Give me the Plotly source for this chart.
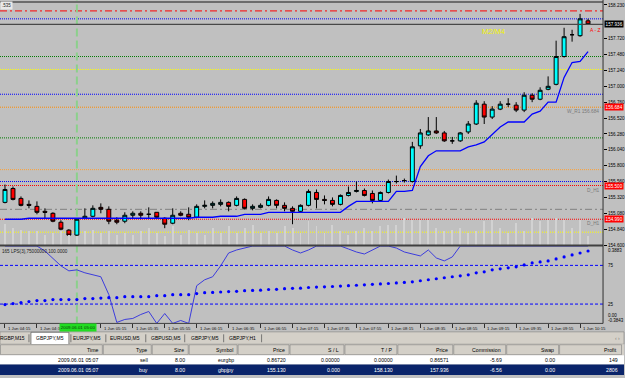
import plotly.graph_objects as go

# ---------------- data ----------------
bars = list(range(74))  # M5 bars, 1 Jun 04:15 .. 10:20

opens = [155.245, 155.455, 155.305, 155.215, 155.185, 155.11, 155.08, 154.945, 154.825, 154.75,
         155.005, 155.035, 155.17, 155.14, 154.975, 154.96, 155.05, 155.08, 155.065, 155.095,
         155.005, 154.93, 155.08, 155.065, 155.02, 155.185, 155.2, 155.215, 155.245, 155.2,
         155.29, 155.155, 155.17, 155.2, 155.275, 155.2, 155.155, 155.11, 155.2, 155.395,
         155.29, 155.275, 155.215, 155.35, 155.41, 155.425, 155.38, 155.275, 155.395, 155.56,
         155.575, 155.56, 156.1, 156.265, 156.325, 156.295, 156.175, 156.175, 156.31, 156.43,
         156.73, 156.535, 156.655, 156.73, 156.715, 156.64, 156.865, 156.805, 156.955, 157.03,
         157.45, 157.78, 157.765, 157.99]
highs = [155.515, 155.485, 155.335, 155.275, 155.26, 155.155, 155.095, 154.975, 154.84, 155.005,
         155.155, 155.2, 155.23, 155.185, 155.02, 155.095, 155.11, 155.11, 155.17, 155.095,
         155.02, 155.155, 155.11, 155.17, 155.215, 155.275, 155.26, 155.29, 155.26, 155.335,
         155.305, 155.215, 155.23, 155.335, 155.29, 155.245, 155.185, 155.215, 155.44, 155.44,
         155.35, 155.32, 155.365, 155.485, 155.56, 155.455, 155.425, 155.41, 155.59, 155.65,
         155.605, 156.16, 156.355, 156.535, 156.535, 156.325, 156.235, 156.31, 156.475, 156.79,
         156.775, 156.7, 156.775, 156.82, 156.76, 156.91, 156.895, 156.985, 157.15, 157.69,
         157.885, 157.855, 158.095, 158.02]
lows = [155.23, 155.275, 155.185, 155.155, 155.065, 155.005, 154.945, 154.825, 154.735, 154.735,
        154.99, 155.02, 155.08, 154.915, 154.915, 154.93, 155.005, 154.99, 155.005, 155.005,
        154.855, 154.915, 155.035, 154.975, 155.005, 155.155, 155.155, 155.185, 155.11, 155.185,
        155.14, 155.125, 155.155, 155.185, 155.155, 155.11, 154.915, 155.095, 155.185, 155.155,
        155.215, 155.185, 155.2, 155.335, 155.395, 155.335, 155.23, 155.26, 155.38, 155.53,
        155.545, 155.545, 156.055, 156.25, 156.28, 156.16, 156.13, 156.16, 156.28, 156.415,
        156.43, 156.505, 156.64, 156.685, 156.61, 156.61, 156.76, 156.79, 156.94, 157.015,
        157.435, 157.675, 157.75, 157.93]
closes = [155.44, 155.29, 155.2, 155.2, 155.095, 155.095, 154.96, 154.84, 154.75, 154.99,
          155.035, 155.155, 155.14, 154.96, 154.945, 155.05, 155.08, 155.05, 155.065, 155.02,
          154.915, 155.05, 155.05, 155.02, 155.185, 155.2, 155.23, 155.245, 155.185, 155.305,
          155.155, 155.185, 155.2, 155.29, 155.2, 155.155, 155.11, 155.2, 155.41, 155.29,
          155.275, 155.215, 155.35, 155.395, 155.425, 155.35, 155.275, 155.395, 155.56, 155.56,
          155.575, 156.085, 156.295, 156.325, 156.295, 156.175, 156.175, 156.295, 156.43, 156.745,
          156.535, 156.655, 156.73, 156.73, 156.64, 156.865, 156.805, 156.94, 157.0, 157.45,
          157.75, 157.78, 158.02, 157.936]

trail_line = [154.99, 154.99, 154.99, 155.005, 155.005, 155.005, 155.005, 155.005, 155.005, 155.005,
              155.005, 155.005, 155.005, 155.005, 155.005, 155.005, 155.005, 155.005, 155.005, 155.005,
              155.005, 155.005, 155.005, 155.005, 155.02, 155.02, 155.02, 155.035, 155.035, 155.035,
              155.065, 155.065, 155.065, 155.095, 155.095, 155.095, 155.095, 155.095, 155.095, 155.095,
              155.095, 155.095, 155.095, 155.185, 155.26, 155.26, 155.26, 155.26, 155.26, 155.41,
              155.41, 155.425, 155.785, 155.95, 156.025, 156.025, 156.025, 156.025, 156.085, 156.115,
              156.16, 156.28, 156.385, 156.46, 156.46, 156.46, 156.58, 156.625, 156.76, 156.76,
              157.135, 157.36, 157.375, 157.525]

volumes = [210, 170, 150, 140, 140, 100, 120, 140, 100, 90,
           140, 150, 120, 140, 100, 120, 100, 140, 170, 120,
           90, 190, 100, 150, 120, 100, 170, 120, 190, 120,
           170, 200, 120, 140, 120, 190, 170, 120, 240, 190,
           120, 200, 140, 100, 140, 170, 140, 190, 200, 200,
           270, 250, 250, 250, 170, 140, 150, 170, 120, 140,
           240, 250, 170, 120, 220, 140, 270, 240, 250, 270,
           250, 170, 250, 90]

osc_line = [100, 100, 100, 100, 100, 93.6, 84.6, 74.4, 67.9, 69.2,
            65.4, 62.8, 60.3, 37.2, 1.3, 5.1, 6.4, 11.5, 15.4, 0,
            12.8, 0, 3.8, 0, 48.7, 56.4, 60.3, 74.4, 91.0, 94.9,
            97.4, 100, 100, 100, 100, 100, 94.9, 91.0, 94.9, 100,
            100, 100, 100, 96.2, 92.3, 89.7, 94.9, 100, 100, 97.4,
            92.3, 89.7, 87.2, 94.9, 84.6, 80.8, 85.9, 100, 100, 100,
            100, 100, 100, 100, 100, 100, 100, 100, 100, 100,
            100, 100, 100, 100]
osc_dots = [24.4, 25.6, 26.9, 28.2, 29.5, 29.5, 30.8, 30.8, 30.8, 30.8,
            32.1, 32.1, 32.7, 33.3, 33.3, 34.6, 34.6, 34.6, 34.6, 35.9,
            35.9, 37.2, 37.2, 37.2, 38.5, 39.7, 40.0, 40.6, 41.2, 41.5,
            42.3, 42.6, 43.0, 43.8, 44.1, 44.9, 45.3, 45.6, 46.4, 46.9,
            47.3, 47.7, 48.2, 48.8, 49.3, 49.9, 50.5, 51.0, 51.6, 52.3,
            53.0, 53.8, 55.1, 56.4, 57.7, 59.0, 60.3, 61.5, 62.8, 65.4,
            66.7, 69.2, 70.5, 71.8, 73.1, 75.6, 78.2, 79.5, 80.8, 83.3,
            85.9, 88.5, 91.0, 93.6]
osc_levels = [75, 25]

price_ticks = [158.23, 157.72, 157.48, 157.24, 157.00, 156.76, 156.52, 156.28,
               156.04, 155.80, 155.56, 155.32, 155.08, 154.84, 154.60]
bid_price = 157.936

level_prices = [158.14, 158.02, 157.45, 157.255, 156.88, 156.684, 156.22,
                155.74, 155.56, 155.50, 155.14, 154.99, 154.795]
level_colors = ["#ff0000", "#0000ff", "#007a00", "#ffff00", "#0000ff", "#ff8c00", "#007a00",
                "#ffa030", "#0000ff", "#ff0000", "#808080", "#ff0000", "#ffff00"]
level_styles = ["dashdot", "dot", "dot", "dot", "dot", "dot", "dot",
                "dot", "dot", "dot", "dashdot", "dot", "dot"]
tagged_levels = [(156.684, "#ff0000"), (155.50, "#ff0000"), (154.99, "#ff0000")]

vline_bar = 9  # 2009.06.01 05:00
vline_label = "2009.06.01 05:00"

time_tick_bars = [0, 4, 12, 16, 20, 24, 28, 32, 36, 40, 44, 48, 52, 56, 60, 64, 68, 72]
time_tick_labels = ["1 Jun 04:15", "1 Jun 04:35", "1 Jun 05:15", "1 Jun 05:35", "1 Jun 05:55",
                    "1 Jun 06:15", "1 Jun 06:35", "1 Jun 06:55", "1 Jun 07:15", "1 Jun 07:35",
                    "1 Jun 07:55", "1 Jun 08:15", "1 Jun 08:35", "1 Jun 08:55", "1 Jun 09:15",
                    "1 Jun 09:35", "1 Jun 09:55", "1 Jun 10:15"]

tabs = ["RGBP,M15", "GBPJPY,M5", "EURJPY,M5", "EURUSD,M5", "GBPUSD,M5", "GBPJPY,M5", "GBPJPY,H1"]
headers = ["Time", "Type", "Size", "Symbol", "Price", "S / L", "T / P", "Price", "Commission", "Swap", "Profit"]
row1 = ["2009.06.01 05:07", "sell", "8.00", "eurgbp", "0.86720", "0.00000", "0.00000", "0.86571", "-5.69", "0.00", "149"]
row2 = ["2009.06.01 05:07", "buy", "8.00", "gbpjpy", "155.130", "0.000", "158.130", "157.936", "-6.56", "0.00", "2806"]

# ---------------- layout helpers ----------------
W, H = 625, 378
FONT = "Liberation Sans"
AXX = 604  # price-axis x position (px)


def X(px):
    return px / W


def Y(py):
    return 1 - py / H


XR = [-0.625, 74.875]

fig = go.Figure()

fig.add_trace(go.Bar(x=bars, y=volumes, xaxis="x", yaxis="y3", width=0.12,
                     marker=dict(color="#d2d2d2", line=dict(width=0)), hoverinfo="skip"))
fig.add_trace(go.Candlestick(
    x=bars, open=opens, high=highs, low=lows, close=closes, xaxis="x", yaxis="y",
    increasing=dict(fillcolor="#00ffff", line=dict(color="#000000", width=1)),
    decreasing=dict(fillcolor="#ff0000", line=dict(color="#000000", width=1)),
    whiskerwidth=0))
fig.add_trace(go.Scatter(x=bars, y=trail_line, mode="lines", xaxis="x", yaxis="y",
                         line=dict(color="#0000ff", width=1.3)))
fig.add_trace(go.Scatter(x=bars, y=osc_line, mode="lines", xaxis="x2", yaxis="y2",
                         line=dict(color="#3c3cdc", width=1)))
fig.add_trace(go.Scatter(x=bars, y=osc_dots, mode="markers", xaxis="x2", yaxis="y2",
                         marker=dict(color="#0000ff", size=3.2)))

shapes = []
dash_map = {"dot": "1px,1px", "dashdot": "7px,3px,2px,3px"}
for p, c, s in zip(level_prices, level_colors, level_styles):
    shapes.append(dict(type="line", xref="paper", yref="y", x0=0, x1=X(AXX), y0=p, y1=p,
                       line=dict(color=c, width=1, dash=dash_map[s]), layer="below"))
# bid line
shapes.append(dict(type="line", xref="paper", yref="y", x0=0, x1=X(AXX), y0=bid_price, y1=bid_price,
                   line=dict(color="#484848", width=1.4)))
for lv in osc_levels:
    shapes.append(dict(type="line", xref="paper", yref="y2", x0=0, x1=X(AXX), y0=lv, y1=lv,
                       line=dict(color="#0000ff", width=1, dash="3px,2px"), layer="below"))
# vertical green line
shapes.append(dict(type="line", xref="x", yref="paper", x0=vline_bar, x1=vline_bar, y0=Y(327), y1=Y(0),
                   line=dict(color="#8cd08c", width=2, dash="8px,4px"), layer="below"))
# frame lines
shapes.append(dict(type="line", xref="paper", yref="paper", x0=0, x1=X(AXX), y0=Y(2), y1=Y(2),
                   line=dict(color="#505050", width=1.5)))
shapes.append(dict(type="line", xref="paper", yref="paper", x0=0, x1=X(AXX), y0=Y(247.5), y1=Y(247.5),
                   line=dict(color="#404040", width=2)))
shapes.append(dict(type="line", xref="paper", yref="paper", x0=0, x1=X(AXX), y0=Y(326), y1=Y(326),
                   line=dict(color="#404040", width=1)))
shapes.append(dict(type="line", xref="paper", yref="paper", x0=X(AXX), x1=X(AXX), y0=Y(326), y1=Y(0),
                   line=dict(color="#303030", width=1)))
# tabs row
shapes.append(dict(type="rect", xref="paper", yref="paper", x0=0, x1=1, y0=Y(347), y1=Y(334.5),
                   fillcolor="#d4d0c8", line=dict(color="#808080", width=0.6)))
shapes.append(dict(type="rect", xref="paper", yref="paper", x0=X(31), x1=X(69), y0=Y(347.5), y1=Y(335),
                   fillcolor="#ffffff", line=dict(color="#404040", width=0.6)))
tab_centers = [13, 50, 87, 125, 166, 205, 243]
tab_seps = [29, 71, 106, 146, 185, 224, 262]
for sx in tab_seps:
    shapes.append(dict(type="line", xref="paper", yref="paper", x0=X(sx), x1=X(sx), y0=Y(345), y1=Y(337),
                       line=dict(color="#606060", width=0.8)))
# table
col_edges = [0, 103, 152, 189, 238, 290, 345, 398, 454, 507, 560, 623]
shapes.append(dict(type="rect", xref="paper", yref="paper", x0=0, x1=1, y0=Y(358), y1=Y(347),
                   fillcolor="#d4d0c8", line=dict(width=0)))
for a, b in zip(col_edges[:-1], col_edges[1:]):
    shapes.append(dict(type="rect", xref="paper", yref="paper", x0=X(a + 0.5), x1=X(b - 0.5),
                       y0=Y(357.5), y1=Y(347.5), fillcolor="#d4d0c8",
                       line=dict(color="#808080", width=0.6)))
shapes.append(dict(type="rect", xref="paper", yref="paper", x0=0, x1=1, y0=Y(367.5), y1=Y(358),
                   fillcolor="#ffffff", line=dict(width=0)))
shapes.append(dict(type="rect", xref="paper", yref="paper", x0=0, x1=1, y0=Y(378), y1=Y(367.5),
                   fillcolor="#0a246a", line=dict(width=0)))

ann = []


def txt(x, y, s, size=5, color="black", xanchor="left", yanchor="middle", xref="paper", yref="paper", **kw):
    ann.append(dict(x=x, y=y, text=s, xref=xref, yref=yref, xanchor=xanchor, yanchor=yanchor,
                    showarrow=False, font=dict(family=FONT, size=size, color=color), **kw))


# time axis labels (left-aligned at their tick)
for b, s in zip(time_tick_bars, time_tick_labels):
    txt(b, Y(331), s, size=4.3, color="#101010", xref="x2", xshift=1)
# price tags
txt(X(AXX + 0.5), bid_price, "157.936", size=4.6, color="white", yref="y", bgcolor="#000000", borderpad=0.6)
for p, c in tagged_levels:
    txt(X(AXX + 0.5), p, f"{p:.3f}", size=4.6, color="white", yref="y", bgcolor=c, borderpad=0.6)
txt(X(602), 156.684, "W_R1 156.684", size=4.8, color="#7a7a7a", xanchor="right", yanchor="top", yref="y")
txt(X(603), 155.50, "D_H1", size=4.8, color="#7a7a7a", xanchor="right", yanchor="top", yref="y")
txt(X(603), 154.99, "D_H1", size=4.8, color="#7a7a7a", xanchor="right", yanchor="top", yref="y")
txt(X(481), Y(32), "M2/M4", size=7.5, color="#f4f400")
txt(X(589), Y(30), "A - Z", size=5, color="#ff0000")
txt(X(0), Y(5.5), ".535", size=4.5, color="#202020", bgcolor="#e8e8e8")
# sub window texts
txt(X(0), Y(254), "165 LPS(3),75000000,100.0000", size=4.6, color="#202020")
for yy, s in [(252, "0.3883"), (268, "75"), (307, "25"), (318, "0.00"), (323, "-0.3843")]:
    txt(X(607), Y(yy), s, size=4.5)
# vertical line time tag
txt(X(78), Y(330.5), vline_label, size=4.4, color="#0b3b0b", xanchor="center", bgcolor="#22dd22", borderpad=0.8)
# tabs
for cx, s in zip(tab_centers, tabs):
    txt(X(cx), Y(341), s, size=5, xanchor="center")
txt(X(618), Y(341), "‹ ›", size=5, color="#808080", xanchor="center")
# table text
for b, s in zip(col_edges[1:], headers):
    txt(X(b - 3), Y(352.5), s, size=5.2, xanchor="right")
for b, s in zip(col_edges[1:], row1):
    txt(X(b - 2), Y(363), s, size=5.2, xanchor="right", color="#000000")
for b, s in zip(col_edges[1:], row2):
    txt(X(b - 2), Y(372.5), s, size=5.2, xanchor="right", color="#ffffff")

fig.update_layout(
    width=W, height=H, margin=dict(l=0, r=0, t=0, b=0),
    paper_bgcolor="#c0c0c0", plot_bgcolor="rgba(0,0,0,0)",
    showlegend=False, bargap=0,
    font=dict(family=FONT, size=5, color="black"),
    xaxis=dict(domain=[0, X(AXX)], range=XR, showticklabels=False, showgrid=False, zeroline=False,
               ticks="", rangeslider=dict(visible=False), anchor="y"),
    yaxis=dict(domain=[Y(247), Y(2)], range=[154.6, 158.275], side="right", anchor="x",
               tickvals=price_ticks, ticktext=[f"{v:.3f}" for v in price_ticks],
               ticks="outside", ticklen=3, tickcolor="black", tickfont=dict(size=4.6, family=FONT),
               showgrid=False, zeroline=False),
    yaxis3=dict(overlaying="y", anchor="x", range=[0, 2450], visible=False),
    xaxis2=dict(domain=[0, X(AXX)], range=XR, anchor="y2", tickvals=time_tick_bars,
                ticks="outside", ticklen=4, tickcolor="#303030", showticklabels=False,
                showgrid=False, zeroline=False),
    yaxis2=dict(domain=[Y(326), Y(248)], range=[0, 100], anchor="x2", showticklabels=False,
                showgrid=False, zeroline=False),
    shapes=shapes, annotations=ann,
)

fig.write_html("out.html")
